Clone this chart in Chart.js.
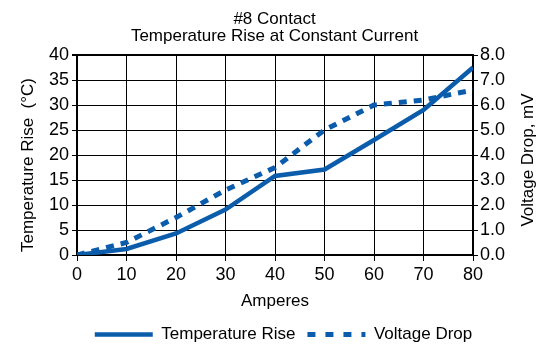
<!DOCTYPE html>
<html>
<head>
<meta charset="utf-8">
<script src="https://cdn.jsdelivr.net/npm/chart.js@4"></script>
<style>
  html, body { margin: 0; padding: 0; background: #fff; }
  #wrap { width: 549px; height: 344px; }
</style>
</head>
<body>
<div id="wrap"><canvas id="chart"></canvas></div>
<script>
const amperes = [0, 10, 20, 30, 40, 50, 60, 70, 80];
const tempRise = [0, 1.2, 4.3, 9.1, 15.8, 17.1, 23, 29, 37.5];
const voltDrop = [0, 0.5, 1.5, 2.6, 3.5, 5.0, 6.0, 6.2, 6.6];
const seriesNames = ["Temperature Rise", "Voltage Drop"];
const titleLines = ["#8 Contact", "Temperature Rise at Constant Current"];
const xTitle = "Amperes";
const yLeftTitle = "Temperature Rise  (°C)";
const yRightTitle = "Voltage Drop, mV";

const blue = "#0b5dab";
const fontFamily = "'Liberation Sans', Arial, sans-serif";
const bottomPad = -9;

const toPoints = (ys) => amperes.map((x, i) => ({ x: x, y: ys[i] }));

// both y titles read bottom-to-top, so draw them by hand
const sideTitles = {
    id: "sideTitles",
    afterLayout: (chart) => {
        // nudge the legend a bit right, like the original
        chart.legend.left += 9;
        chart.legend.right += 9;
    },
    afterDraw: (chart) => {
        const c = chart.ctx;
        const area = chart.chartArea;
        const mid = (area.top + area.bottom) / 2;
        const put = (text, x, y) => {
            c.save();
            c.translate(x, y);
            c.rotate(-Math.PI / 2);
            c.textAlign = "center";
            c.textBaseline = "middle";
            c.fillStyle = "#000";
            c.font = "17px " + fontFamily;
            c.fillText(text, 0, 0);
            c.restore();
        };
        put(yLeftTitle, area.left - 49, mid + 10);
        put(yRightTitle, area.right + 55, mid + 5);
    }
};

const ctx = document.getElementById("chart").getContext("2d");

new Chart(ctx, {
    type: "line",
    data: {
        datasets: [{
            label: seriesNames[0],
            data: toPoints(tempRise),
            yAxisID: "yL",
            borderColor: blue,
            backgroundColor: blue,
            borderWidth: 4.5,
            pointRadius: 0,
            tension: 0,
            fill: false
        }, {
            label: seriesNames[1],
            data: toPoints(voltDrop),
            yAxisID: "yR",
            borderColor: blue,
            backgroundColor: blue,
            borderWidth: 5,
            borderDash: [8, 7],
            pointRadius: 0,
            tension: 0,
            fill: false
        }]
    },
    plugins: [sideTitles],
    options: {
        responsive: true,
        maintainAspectRatio: false,
        animation: false,
        layout: { padding: { left: 0, right: 0, top: 0, bottom: bottomPad } },
        plugins: {
            title: {
                display: true,
                text: titleLines,
                color: "#000",
                font: { family: fontFamily, size: 17, weight: "normal", lineHeight: 1.0 },
                padding: { top: 11, bottom: 10 }
            },
            legend: {
                position: "bottom",
                labels: {
                    color: "#000",
                    font: { family: fontFamily, size: 17 },
                    usePointStyle: true,
                    pointStyle: "line",
                    pointStyleWidth: 58,
                    padding: 12,
                    generateLabels: (chart) => {
                        const items = Chart.defaults.plugins.legend.labels.generateLabels(chart);
                        items.forEach((it) => {
                            const ds = chart.data.datasets[it.datasetIndex];
                            it.lineDash = ds.borderDash ? [8, 10] : [];
                            it.lineWidth = ds.borderWidth;
                            it.strokeStyle = ds.borderColor;
                        });
                        return items;
                    }
                }
            },
            tooltip: { enabled: false }
        },
        scales: {
            x: {
                type: "linear",
                min: 0,
                max: 80,
                ticks: { stepSize: 10, color: "#000", font: { family: fontFamily, size: 18 }, padding: 3 },
                grid: { color: "#000", lineWidth: 1, tickLength: 6 },
                border: { color: "#000", width: 2 },
                title: {
                    display: true,
                    text: xTitle,
                    color: "#000",
                    font: { family: fontFamily, size: 17 },
                    padding: { top: 4, bottom: 2 }
                },
                afterFit: (scale) => {
                    scale.height = scale.chart.height - bottomPad - 255 - scale.chart.legend.height;
                }
            },
            yL: {
                type: "linear",
                position: "left",
                min: 0,
                max: 40,
                ticks: { stepSize: 5, color: "#000", font: { family: fontFamily, size: 18 }, padding: 3 },
                grid: {
                    color: "#000",
                    lineWidth: (c) => (c.tick && c.tick.value === 40 ? 2 : 1),
                    tickLength: 5
                },
                border: { color: "#000", width: 2 },
                afterFit: (scale) => { scale.width = 77; }
            },
            yR: {
                type: "linear",
                position: "right",
                min: 0,
                max: 8,
                ticks: {
                    stepSize: 1,
                    color: "#000",
                    font: { family: fontFamily, size: 18 },
                    padding: 2,
                    callback: (v) => v.toFixed(1)
                },
                grid: { drawOnChartArea: false, color: "#000", tickLength: 5 },
                border: { color: "#000", width: 2 },
                afterFit: (scale) => { scale.width = 76; }
            }
        }
    }
});
</script>
</body>
</html>
